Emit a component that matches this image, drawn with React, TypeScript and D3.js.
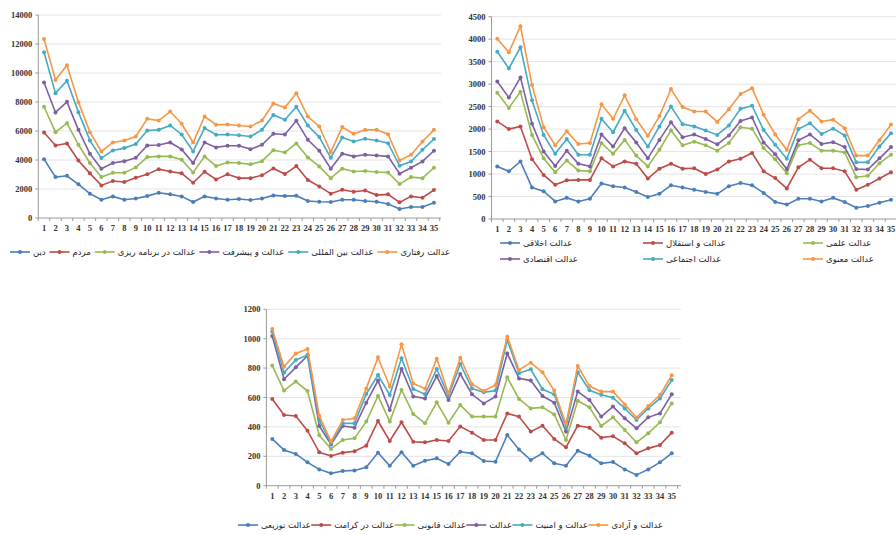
import React, { useEffect, useRef } from 'react';
import * as d3 from 'd3';

const categories = d3.range(1, 36);

// panel 1
const deen = [4060, 2820, 2910, 2320, 1680, 1260, 1490, 1260, 1350, 1510, 1740, 1630, 1490, 1100, 1490, 1350, 1260, 1310, 1240, 1350, 1560, 1510, 1540, 1170, 1120, 1100, 1260, 1260, 1170, 1120, 960, 620, 760, 760, 1060];
const mardom = [5900, 5000, 5140, 3970, 3080, 2250, 2550, 2480, 2780, 3010, 3370, 3210, 3080, 2430, 3190, 2660, 3010, 2750, 2750, 2940, 3420, 3030, 3580, 2620, 2180, 1680, 1950, 1810, 1900, 1580, 1630, 1080, 1490, 1400, 1930];
const barnameRizi = [7670, 5920, 6540, 5050, 3790, 2820, 3120, 3120, 3490, 4200, 4250, 4250, 4020, 3140, 4250, 3580, 3830, 3790, 3700, 3920, 4680, 4520, 5140, 4180, 3560, 2750, 3400, 3210, 3240, 3170, 3140, 2340, 2820, 2750, 3470];
const pishraft = [9340, 7280, 8010, 6080, 4430, 3400, 3790, 3920, 4150, 5000, 5030, 5210, 4730, 3790, 5210, 4870, 4980, 4980, 4750, 5050, 5810, 5760, 6700, 5390, 4640, 3400, 4430, 4250, 4360, 4310, 4250, 3050, 3470, 3900, 4640];
const beynolmelali = [11430, 8610, 9460, 7300, 5350, 4130, 4660, 4820, 5100, 6040, 6080, 6380, 5760, 4590, 6200, 5740, 5760, 5710, 5620, 6080, 7110, 6770, 7670, 6380, 5580, 4150, 5550, 5280, 5460, 5350, 5160, 3600, 3900, 4710, 5440];
const raftari = [12350, 9520, 10530, 7990, 5920, 4590, 5210, 5350, 5620, 6840, 6720, 7340, 6500, 5210, 7000, 6430, 6450, 6380, 6310, 6720, 7900, 7620, 8610, 7000, 6310, 4540, 6270, 5810, 6080, 6080, 5780, 3970, 4360, 5280, 6080];

// panel 2
const akhlaghi = [1170, 1060, 1280, 700, 620, 390, 470, 390, 450, 790, 730, 700, 600, 490, 560, 750, 700, 650, 600, 560, 730, 800, 750, 580, 380, 320, 450, 450, 390, 470, 380, 250, 290, 360, 430];
const esteghlal = [2170, 2000, 2060, 1330, 980, 760, 860, 870, 870, 1350, 1170, 1280, 1230, 900, 1120, 1230, 1120, 1130, 1000, 1100, 1280, 1340, 1470, 1060, 910, 680, 1150, 1320, 1130, 1130, 1060, 650, 760, 900, 1040];
const elmi = [2810, 2470, 2830, 1870, 1350, 1040, 1300, 1080, 1060, 1690, 1450, 1760, 1410, 1170, 1540, 1970, 1640, 1720, 1640, 1520, 1690, 2040, 2010, 1580, 1330, 1020, 1640, 1690, 1520, 1520, 1480, 930, 960, 1240, 1430];
const eghtesadi = [3060, 2700, 3150, 2120, 1500, 1180, 1520, 1230, 1170, 1880, 1610, 2020, 1700, 1350, 1760, 2150, 1820, 1880, 1780, 1660, 1860, 2180, 2260, 1700, 1440, 1110, 1750, 1880, 1670, 1710, 1600, 1110, 1100, 1350, 1600];
const ejtemaei = [3720, 3350, 3820, 2640, 1870, 1450, 1780, 1430, 1430, 2230, 1930, 2410, 1980, 1610, 2060, 2500, 2110, 2060, 1970, 1870, 2080, 2450, 2520, 1980, 1650, 1340, 2000, 2130, 1890, 2010, 1860, 1260, 1260, 1610, 1910];
const manavi = [4010, 3710, 4290, 2980, 2040, 1640, 1950, 1670, 1690, 2550, 2230, 2750, 2220, 1850, 2290, 2890, 2490, 2390, 2390, 2160, 2440, 2780, 2910, 2320, 1880, 1540, 2220, 2410, 2170, 2210, 2020, 1410, 1410, 1750, 2100];

// panel 3
const tozii = [318, 243, 216, 159, 111, 84, 100, 104, 125, 225, 136, 227, 136, 170, 186, 147, 231, 220, 168, 163, 345, 247, 175, 220, 152, 136, 238, 204, 152, 161, 111, 73, 111, 159, 220];
const keramat = [590, 481, 474, 374, 227, 202, 225, 234, 272, 440, 304, 431, 299, 295, 311, 304, 402, 361, 311, 311, 492, 470, 368, 408, 318, 261, 408, 395, 327, 336, 288, 220, 254, 277, 361];
const ghanooni = [817, 647, 708, 644, 343, 250, 311, 322, 436, 610, 436, 651, 488, 424, 567, 429, 549, 470, 470, 470, 737, 590, 526, 533, 485, 311, 578, 533, 406, 465, 379, 295, 356, 431, 560];
const edalat = [1018, 724, 805, 885, 406, 281, 406, 395, 565, 715, 515, 794, 606, 594, 746, 583, 760, 622, 560, 606, 900, 730, 715, 610, 565, 368, 640, 583, 470, 538, 458, 390, 465, 492, 622];
const amniat = [1048, 769, 855, 889, 447, 288, 424, 424, 624, 753, 617, 867, 658, 622, 794, 610, 828, 662, 635, 647, 991, 765, 792, 656, 622, 397, 771, 649, 619, 599, 526, 447, 526, 594, 719];
const azadi = [1066, 810, 900, 930, 476, 300, 447, 458, 662, 873, 674, 962, 696, 660, 864, 628, 871, 690, 644, 685, 1014, 787, 837, 771, 647, 420, 814, 678, 640, 640, 553, 463, 542, 617, 751];

const colors = ['#4a7ebb', '#be4b48', '#98b954', '#7d60a0', '#46aac5', '#f79646'];

const panels = [
  {
    series: [
      { name: 'دین', values: deen },
      { name: 'مردم', values: mardom },
      { name: 'عدالت در برنامه ریزی', values: barnameRizi },
      { name: 'عدالت و پیشرفت', values: pishraft },
      { name: 'عدالت بین المللی', values: beynolmelali },
      { name: 'عدالت رفتاری', values: raftari },
    ],
    max: 14000, step: 2000,
    x: [38.3, 439.7], y: [218, 15], gridRight: 441,
    legendRow: { from: 10, to: 450, y: 252 },
  },
  {
    series: [
      { name: 'عدالت اخلاقی', values: akhlaghi },
      { name: 'عدالت و استقلال', values: esteghlal },
      { name: 'عدالت علمی', values: elmi },
      { name: 'عدالت اقتصادی', values: eghtesadi },
      { name: 'عدالت اجتماعی', values: ejtemaei },
      { name: 'عدالت معنوی', values: manavi },
    ],
    max: 4500, step: 500,
    x: [491.5, 896.8], y: [219, 16.7], gridRight: 896,
    legendGrid: [[500, 243], [643, 243], [803, 243], [500, 259], [643, 259], [803, 259]],
  },
  {
    series: [
      { name: 'عدالت توزیعی', values: tozii },
      { name: 'عدالت در کرامت', values: keramat },
      { name: 'عدالت قانونی', values: ghanooni },
      { name: 'عدالت', values: edalat },
      { name: 'عدالت و امنیت', values: amniat },
      { name: 'عدالت و آزادی', values: azadi },
    ],
    max: 1200, step: 200,
    x: [266.4, 677.6], y: [485.7, 309.3], gridRight: 681,
    legendRow: { from: 238, to: 663, y: 525 },
  },
];

const App = () => {
  const ref = useRef<SVGSVGElement>(null);

  useEffect(() => {
    const svg = d3.select(ref.current);
    svg.selectAll('*').remove();

    panels.forEach(p => {
      const g = svg.append('g');
      const xScale = d3.scalePoint<number>().domain(categories).range(p.x as [number, number]).padding(0.5);
      const yScale = d3.scaleLinear().domain([0, p.max]).range(p.y as [number, number]);
      const left = p.x[0];
      const ticks = d3.range(0, p.max + 1, p.step);

      // grid
      g.selectAll('.grid').data(ticks.slice(1)).enter().append('line')
        .attr('x1', left).attr('x2', p.gridRight)
        .attr('y1', d => yScale(d)).attr('y2', d => yScale(d))
        .attr('stroke', '#e4e4e4').attr('stroke-width', 1);

      // axes lines
      g.append('line').attr('x1', left).attr('x2', left)
        .attr('y1', yScale(0)).attr('y2', yScale(p.max))
        .attr('stroke', '#9a9a9a');
      g.append('line').attr('x1', left).attr('x2', p.gridRight)
        .attr('y1', yScale(0)).attr('y2', yScale(0))
        .attr('stroke', '#9a9a9a');

      // y ticks
      g.selectAll('.ytick').data(ticks).enter().append('line')
        .attr('x1', left - 3).attr('x2', left)
        .attr('y1', d => yScale(d)).attr('y2', d => yScale(d))
        .attr('stroke', '#9a9a9a');
      g.selectAll('.ylab').data(ticks).enter().append('text')
        .attr('x', left - 6).attr('y', d => yScale(d) + 3)
        .attr('text-anchor', 'end')
        .attr('font-family', 'Liberation Serif, serif').attr('font-weight', 'bold')
        .attr('font-size', 8.5).attr('fill', '#333')
        .text(d => d);

      // x ticks
      const stepX = xScale.step();
      g.selectAll('.xtick').data(categories.concat([36])).enter().append('line')
        .attr('x1', d => xScale(1)! - stepX / 2 + (d - 1) * stepX)
        .attr('x2', d => xScale(1)! - stepX / 2 + (d - 1) * stepX)
        .attr('y1', yScale(0)).attr('y2', yScale(0) + 3)
        .attr('stroke', '#9a9a9a');
      g.selectAll('.xlab').data(categories).enter().append('text')
        .attr('x', d => xScale(d)!).attr('y', yScale(0) + 13)
        .attr('text-anchor', 'middle')
        .attr('font-family', 'Liberation Serif, serif').attr('font-weight', 'bold')
        .attr('font-size', 8.5).attr('fill', '#333')
        .text(d => d);

      const line = d3.line<number>()
        .x((_, i) => xScale(categories[i])!)
        .y(d => yScale(d));

      p.series.forEach((s, si) => {
        g.append('path').datum(s.values)
          .attr('d', line).attr('fill', 'none')
          .attr('stroke', colors[si]).attr('stroke-width', 1.6);
        g.selectAll('.pt' + si).data(s.values).enter().append('circle')
          .attr('cx', (_, i) => xScale(categories[i])!)
          .attr('cy', d => yScale(d))
          .attr('r', 2).attr('fill', colors[si]);
      });

      // legend
      const drawItem = (si: number, lx: number, ly: number) => {
        const item = g.append('g');
        item.append('line').attr('x1', lx).attr('x2', lx + 20)
          .attr('y1', ly).attr('y2', ly)
          .attr('stroke', colors[si]).attr('stroke-width', 1.6);
        item.append('circle').attr('cx', lx + 10).attr('cy', ly).attr('r', 2).attr('fill', colors[si]);
        const t = item.append('text').attr('x', lx + 23).attr('y', ly + 3)
          .attr('font-family', 'DejaVu Sans, sans-serif')
          .attr('font-size', 8.5).attr('fill', '#222')
          .text(p.series[si].name);
        return t;
      };

      if (p.legendGrid) {
        p.series.forEach((_, si) => drawItem(si, p.legendGrid[si][0], p.legendGrid[si][1]));
      } else if (p.legendRow) {
        const r = p.legendRow;
        const texts = p.series.map((_, si) => drawItem(si, 0, r.y));
        const widths = texts.map(t => 23 + (t.node() as SVGTextElement).getComputedTextLength());
        const total = d3.sum(widths);
        const gap = (r.to - r.from - total) / (widths.length - 1);
        let cx = r.from;
        texts.forEach((t, i) => {
          (t.node()!.parentNode as SVGGElement).setAttribute('transform', `translate(${cx},0)`);
          cx += widths[i] + gap;
        });
      }
    });
  }, []);

  return (
    <svg ref={ref} width={896} height={535}
      style={{ position: 'absolute', left: 0, top: 0, background: '#fff' }} />
  );
};

export default App;
